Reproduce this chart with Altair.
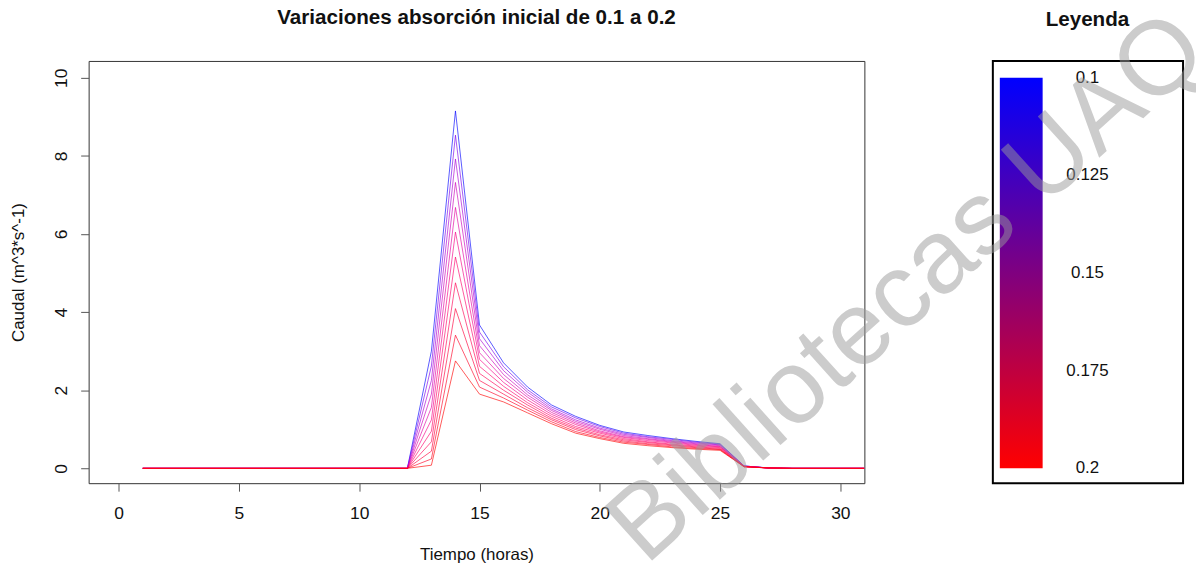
import altair as alt
import pandas as pd

# ---- data ----
horas = list(range(1, 32))
absorcion = [0.10, 0.11, 0.12, 0.13, 0.14, 0.15, 0.16, 0.17, 0.18, 0.19, 0.20]

# caudal for hours 13..27 (zero elsewhere)
horas_activas = list(range(13, 28))
caudal_010 = [3.00, 9.15, 3.67, 2.70, 2.08, 1.62, 1.33, 1.10, 0.93, 0.84, 0.76, 0.69, 0.63, 0.06, 0.01]
caudal_011 = [2.62, 8.53, 3.49, 2.60, 2.01, 1.57, 1.29, 1.07, 0.90, 0.81, 0.74, 0.67, 0.61, 0.06, 0.01]
caudal_012 = [2.25, 7.92, 3.32, 2.50, 1.95, 1.52, 1.24, 1.03, 0.87, 0.79, 0.71, 0.65, 0.60, 0.06, 0.01]
caudal_013 = [1.90, 7.32, 3.14, 2.40, 1.88, 1.48, 1.20, 1.00, 0.84, 0.76, 0.69, 0.63, 0.58, 0.05, 0.01]
caudal_014 = [1.56, 6.68, 2.96, 2.30, 1.82, 1.43, 1.16, 0.96, 0.81, 0.74, 0.67, 0.61, 0.56, 0.05, 0.01]
caudal_015 = [1.24, 6.05, 2.79, 2.20, 1.75, 1.38, 1.12, 0.93, 0.79, 0.71, 0.65, 0.59, 0.55, 0.05, 0.01]
caudal_016 = [0.95, 5.41, 2.61, 2.10, 1.68, 1.33, 1.07, 0.90, 0.76, 0.68, 0.62, 0.57, 0.53, 0.05, 0.01]
caudal_017 = [0.68, 4.75, 2.43, 2.00, 1.62, 1.28, 1.03, 0.86, 0.73, 0.66, 0.60, 0.55, 0.51, 0.05, 0.01]
caudal_018 = [0.44, 4.09, 2.25, 1.90, 1.55, 1.24, 0.99, 0.83, 0.70, 0.63, 0.58, 0.53, 0.49, 0.04, 0.01]
caudal_019 = [0.24, 3.41, 2.08, 1.80, 1.49, 1.19, 0.94, 0.79, 0.67, 0.61, 0.55, 0.51, 0.48, 0.04, 0.01]
caudal_020 = [0.08, 2.75, 1.90, 1.70, 1.42, 1.14, 0.90, 0.76, 0.64, 0.58, 0.53, 0.49, 0.46, 0.04, 0.01]
series = [caudal_010, caudal_011, caudal_012, caudal_013, caudal_014, caudal_015,
          caudal_016, caudal_017, caudal_018, caudal_019, caudal_020]

legend_values = [0.1, 0.125, 0.15, 0.175, 0.2]
legend_labels = ["0.1", "0.125", "0.15", "0.175", "0.2"]

x_ticks = [0, 5, 10, 15, 20, 25, 30]
y_ticks = [0, 2, 4, 6, 8, 10]

rows = []
for a, vals in zip(absorcion, series):
    lookup = dict(zip(horas_activas, vals))
    for h in horas:
        rows.append({"hora": h, "caudal": lookup.get(h, 0.0), "absorcion": a})
df = pd.DataFrame(rows)

FONT = "Liberation Sans"
TXT = "#111111"

lines = alt.Chart(df).mark_line(strokeWidth=1, opacity=0.65, clip=True).encode(
    x=alt.X("hora:Q",
            scale=alt.Scale(domain=[-1.25, 31.0], nice=False, zero=False),
            axis=alt.Axis(values=x_ticks, title="Tiempo (horas)", grid=False, domain=False,
                          tickColor="#555555", tickSize=8, labelFontSize=17.5,
                          labelPadding=13.5, titleFontSize=17, titleFontWeight="normal",
                          titlePadding=25, labelColor=TXT, titleColor=TXT,
                          labelFont=FONT, titleFont=FONT)),
    y=alt.Y("caudal:Q",
            scale=alt.Scale(domain=[-0.38, 10.43], nice=False, zero=False),
            axis=alt.Axis(values=y_ticks, title="Caudal (m^3*s^-1)", grid=False, domain=False,
                          tickColor="#555555", tickSize=8, labelFontSize=17.5,
                          labelAngle=270, labelAlign="center", labelBaseline="bottom",
                          labelPadding=10.5, titleFontSize=17, titleFontWeight="normal",
                          titlePadding=25, labelColor=TXT, titleColor=TXT,
                          labelFont=FONT, titleFont=FONT)),
    color=alt.Color("absorcion:Q",
                    scale=alt.Scale(domain=[0.1, 0.2], range=["#0000ff", "#ff0000"]),
                    legend=None),
    detail="absorcion:N",
).properties(
    width=779, height=424,
    title=alt.TitleParams("Variaciones absorción inicial de 0.1 a 0.2", font=FONT,
                          fontSize=20.7, fontWeight="bold", frame="group", offset=32,
                          color=TXT),
    view=alt.ViewBackground(stroke="#333333", strokeWidth=1),
)

leg_scale = alt.Scale(domain=[0.0957, 0.2038], reverse=True, nice=False, zero=False)

bar_df = pd.DataFrame({"a0": [absorcion[0]], "a1": [absorcion[-1]]})
bar = alt.Chart(bar_df).mark_rect(
    color=alt.Gradient(gradient="linear",
                       stops=[alt.GradientStop(color="#0000ff", offset=0),
                              alt.GradientStop(color="#ff0000", offset=1)],
                       x1=0, x2=0, y1=0, y2=1)
).encode(
    y=alt.Y("a0:Q", scale=leg_scale, axis=None),
    y2="a1:Q",
    x=alt.value(7), x2=alt.value(50),
)

lab_df = pd.DataFrame({"v": legend_values, "t": legend_labels})
labels = alt.Chart(lab_df).mark_text(font=FONT, fontSize=17, align="center",
                                     baseline="middle", color=TXT).encode(
    y=alt.Y("v:Q", scale=leg_scale, axis=None),
    x=alt.value(95),
    text="t:N",
)

leg_title = alt.Chart(pd.DataFrame({"t": ["Leyenda"]})).mark_text(
    font=FONT, fontSize=20.7, fontWeight="bold", align="center", baseline="middle",
    color=TXT,
).encode(x=alt.value(95), y=alt.value(-41), text="t:N")

wm = alt.Chart(pd.DataFrame({"t": ["Bibliotecas UAQ"]})).mark_text(
    font=FONT, fontSize=105, angle=318, align="center", baseline="middle",
    color="#9a9a9a", opacity=0.5,
).encode(x=alt.value(-86), y=alt.value(228), text="t:N")

legend = alt.layer(bar, labels, leg_title, wm).properties(
    width=191, height=424,
    view=alt.ViewBackground(stroke="#000000", strokeWidth=2),
)

chart = alt.hconcat(lines, legend, spacing=129, bounds="flush").properties(
    padding={"left": 8, "top": -8, "right": -31, "bottom": -12}
).configure_view(stroke="#333333")

chart.save("out.html", embed_options={"renderer": "svg", "actions": False})
